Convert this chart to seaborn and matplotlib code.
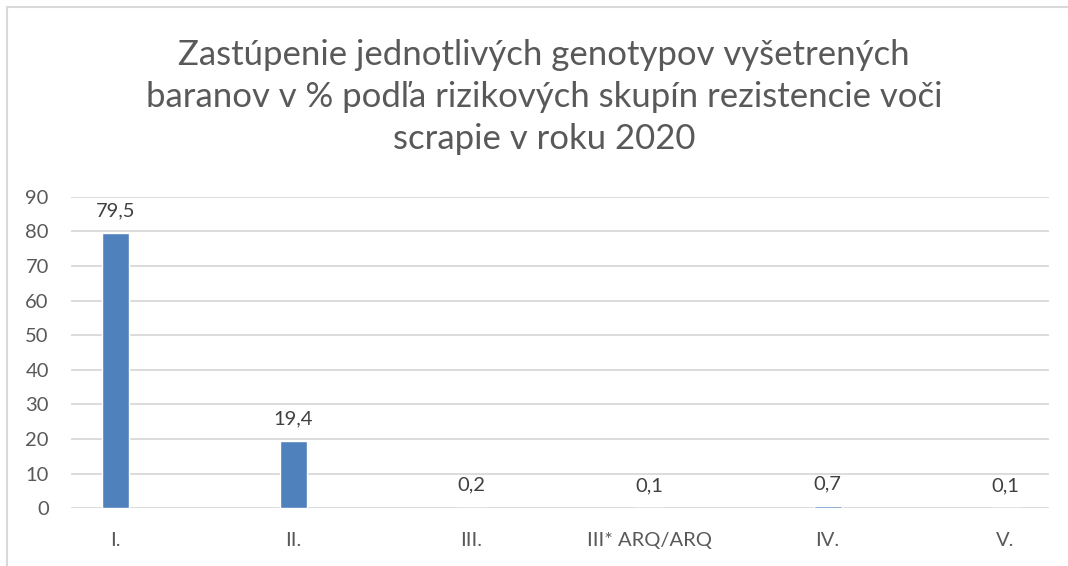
import matplotlib
matplotlib.use("Agg")
import matplotlib.pyplot as plt
import seaborn as sns
import pandas as pd
from matplotlib.patches import Rectangle

# data
categories = ["I.", "II.", "III.", "III* ARQ/ARQ", "IV.", "V."]
values = [79.5, 19.4, 0.2, 0.1, 0.7, 0.1]
value_labels = ["79,5", "19,4", "0,2", "0,1", "0,7", "0,1"]
y_ticks = [0, 10, 20, 30, 40, 50, 60, 70, 80, 90]

title = ("Zastúpenie jednotlivých genotypov vyšetrených\n"
         "baranov v % podľa rizikových skupín rezistencie voči\n"
         "scrapie v roku 2020")

df = pd.DataFrame({"skupina": categories, "podiel": values})

sns.set_theme(style="white")
plt.rcParams["font.family"] = ["Lato", "DejaVu Sans"]

bar_color = "#4F81BD"
text_gray = "#595959"
label_gray = "#404040"
grid_gray = "#D9D9D9"

fig = plt.figure(figsize=(10.68, 5.66), dpi=100)
ax = fig.add_axes([71 / 1068, 1 - 508.3 / 566, 978 / 1068, 311.6 / 566])

sns.barplot(data=df, x="skupina", y="podiel", color=bar_color,
            width=0.157, saturation=1, ax=ax, zorder=3)

ax.set_xlim(-0.25, 5.244)
ax.set_ylim(0, 90)
ax.set_yticks(y_ticks)
ax.set_yticklabels([str(t) for t in y_ticks], color=text_gray, fontsize=14.5)
ax.tick_params(axis="x", colors=text_gray, labelsize=14.5, length=0, pad=17)
ax.tick_params(axis="y", length=0, pad=16)
for lbl in ax.get_xticklabels():
    lbl.set_color(text_gray)
ax.set_xlabel("")
ax.set_ylabel("")

ax.grid(axis="y", color=grid_gray, linewidth=1.3, zorder=0)
ax.set_axisbelow(True)
for s in ax.spines.values():
    s.set_visible(False)

for i, (v, t) in enumerate(zip(values, value_labels)):
    ax.annotate(t, (i, v), xytext=(0, 10), textcoords="offset points",
                ha="center", va="bottom", fontsize=14.5, color=label_gray)

fig.text(544 / 1068, 1 - 97 / 566, title, ha="center", va="center",
         fontsize=25, color=text_gray, linespacing=1.4)

# chart frame (cut off on the right and bottom)
fig.patches.append(Rectangle((6.5 / 1068, -0.05), 1.2, 1 - 6.5 / 566 + 0.05,
                             transform=fig.transFigure, fill=False,
                             edgecolor="#D9D9D9", linewidth=1.5))

fig.savefig("out.png", dpi=100, facecolor="white")
